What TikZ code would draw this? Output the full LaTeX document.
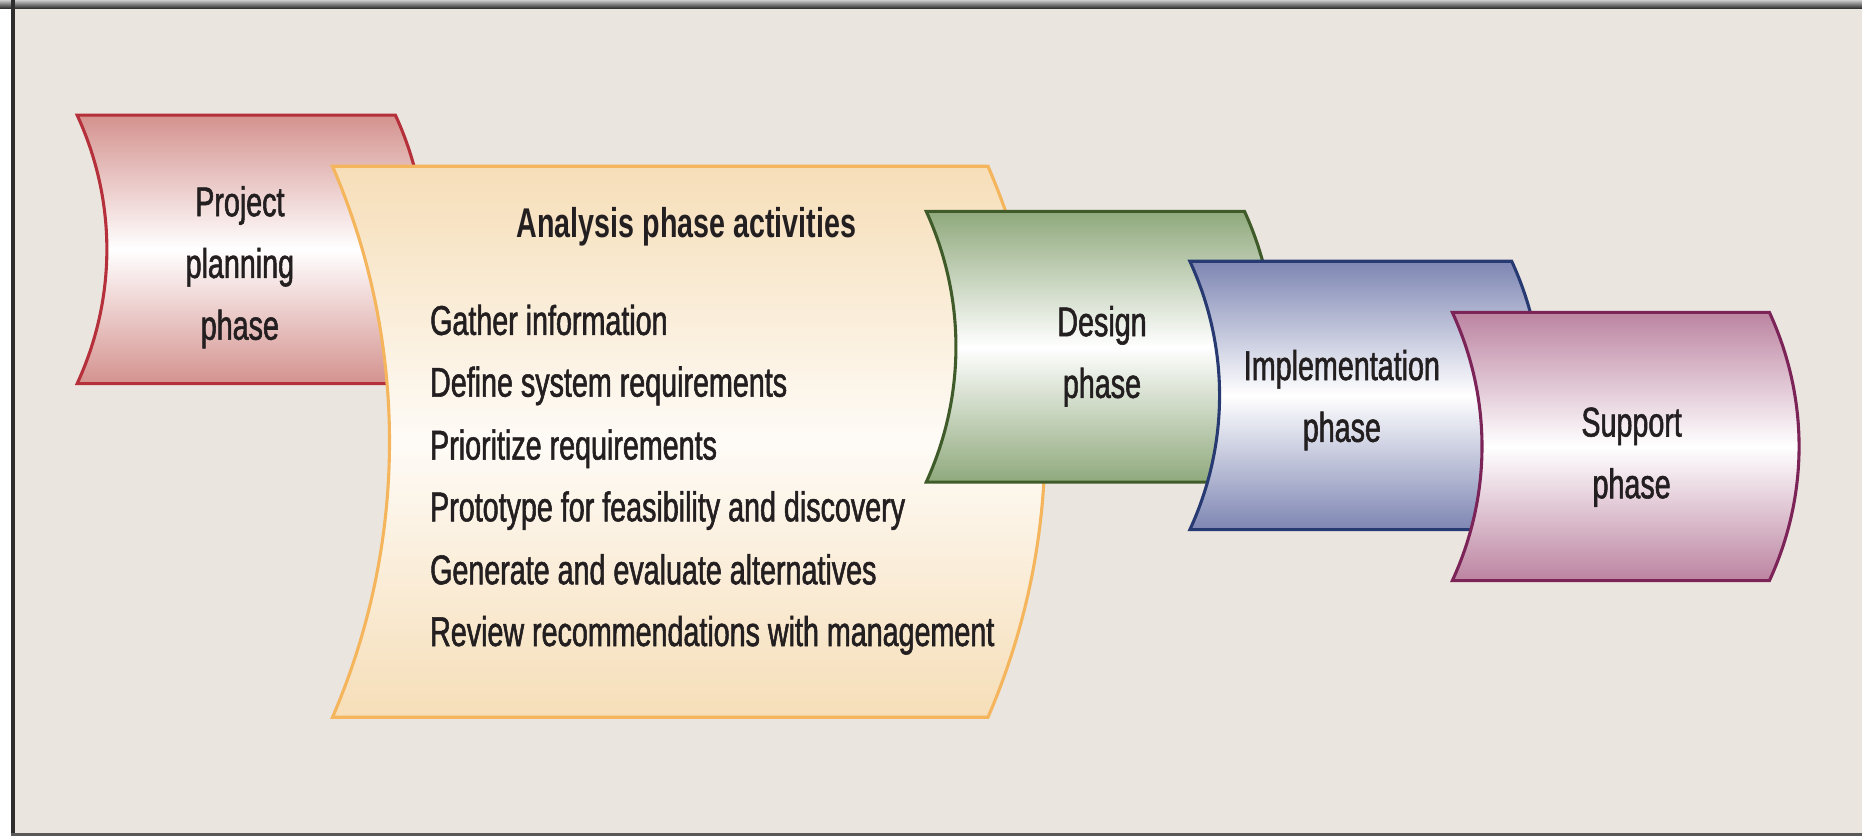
\documentclass[tikz,border=0pt]{standalone}
\usepackage{fontspec}
\setmainfont{Liberation Sans}[FakeStretch=0.69, UprightFeatures={FakeBold=1.3}]
\definecolor{bg}{HTML}{EAE5DF}
\definecolor{frameline}{HTML}{2E2E2E}
\definecolor{txt}{HTML}{231F20}
\definecolor{redfill}{HTML}{D4928E}
\definecolor{redline}{HTML}{B5303A}
\definecolor{anafill}{HTML}{F6DEB8}
\definecolor{analine}{HTML}{F5B55C}
\definecolor{grnfill}{HTML}{8FA97C}
\definecolor{grnline}{HTML}{3F5B2A}
\definecolor{blufill}{HTML}{7E86B3}
\definecolor{bluline}{HTML}{283A72}
\definecolor{pnkfill}{HTML}{BC84A1}
\definecolor{pnkline}{HTML}{7C2458}
% #1 x, #2 top, #3 width, #4 height, #5 bulge, #6 fill colour, #7 line colour, #8 middle colour
\newcommand\phaseshape[8]{%
  \path[draw=#7, line width=2.6pt, line join=miter, top color=#6, bottom color=#6, middle color=#8]
    (#1,#2) -- ({#1+#3},#2)
    .. controls ({#1+#3+4*#5/3},{#2+0.32*#4}) and ({#1+#3+4*#5/3},{#2+0.68*#4}) .. ({#1+#3},{#2+#4})
    -- (#1,{#2+#4})
    .. controls ({#1+4*#5/3},{#2+0.68*#4}) and ({#1+4*#5/3},{#2+0.32*#4}) .. (#1,#2) -- cycle;}
\begin{document}
\begin{tikzpicture}[x=1pt,y=-1pt,
  phasetext/.style={font=\fontsize{35}{52}\selectfont, text=txt, align=center, inner sep=0pt},
  listtext/.style={font=\fontsize{35}{42}\selectfont, text=txt, anchor=base west, inner sep=0pt},
  titletext/.style={font=\fontsize{35}{42}\selectfont\bfseries, text=txt, anchor=base, inner sep=0pt}]
\useasboundingbox (0,0) rectangle (1568,704);
\fill[white] (0,0) rectangle (1568,704);
\fill[bg] (11,6) rectangle (1568,703);
\shade[top color=gray!40, bottom color=frameline] (0,0) rectangle (1568,7);
\fill[frameline] (9.5,0) rectangle (12.5,704);
\fill[frameline!80] (9.5,701.5) rectangle (1568,704);

\phaseshape{65}{97}{268}{226}{25}{redfill}{redline}{white}
\phaseshape{280}{140}{552}{464}{48}{anafill}{analine}{white!70!anafill!40}
\phaseshape{780}{178}{268}{228}{25}{grnfill}{grnline}{white}
\phaseshape{1002}{220}{271}{226}{25}{blufill}{bluline}{white}
\phaseshape{1223}{263}{267}{226}{25}{pnkfill}{pnkline}{white}

\node[phasetext] (plan) at (202,225) {Project\\planning\\phase};
\node[titletext] (anatitle) at (578,200) {Analysis phase activities};
\node[listtext] (a1) at (362,282) {Gather information};
\node[listtext] (a2) at (362,334) {Define system requirements};
\node[listtext] (a3) at (362,387) {Prioritize requirements};
\node[listtext] (a4) at (362,439) {Prototype for feasibility and discovery};
\node[listtext] (a5) at (362,492) {Generate and evaluate alternatives};
\node[listtext] (a6) at (362,544) {Review recommendations with management};
\node[phasetext] (design) at (928,300) {Design\\phase};
\node[phasetext] (impl) at (1130,337) {Implementation\\phase};
\node[phasetext] (supp) at (1374,385) {Support\\phase};
\end{tikzpicture}
\end{document}
